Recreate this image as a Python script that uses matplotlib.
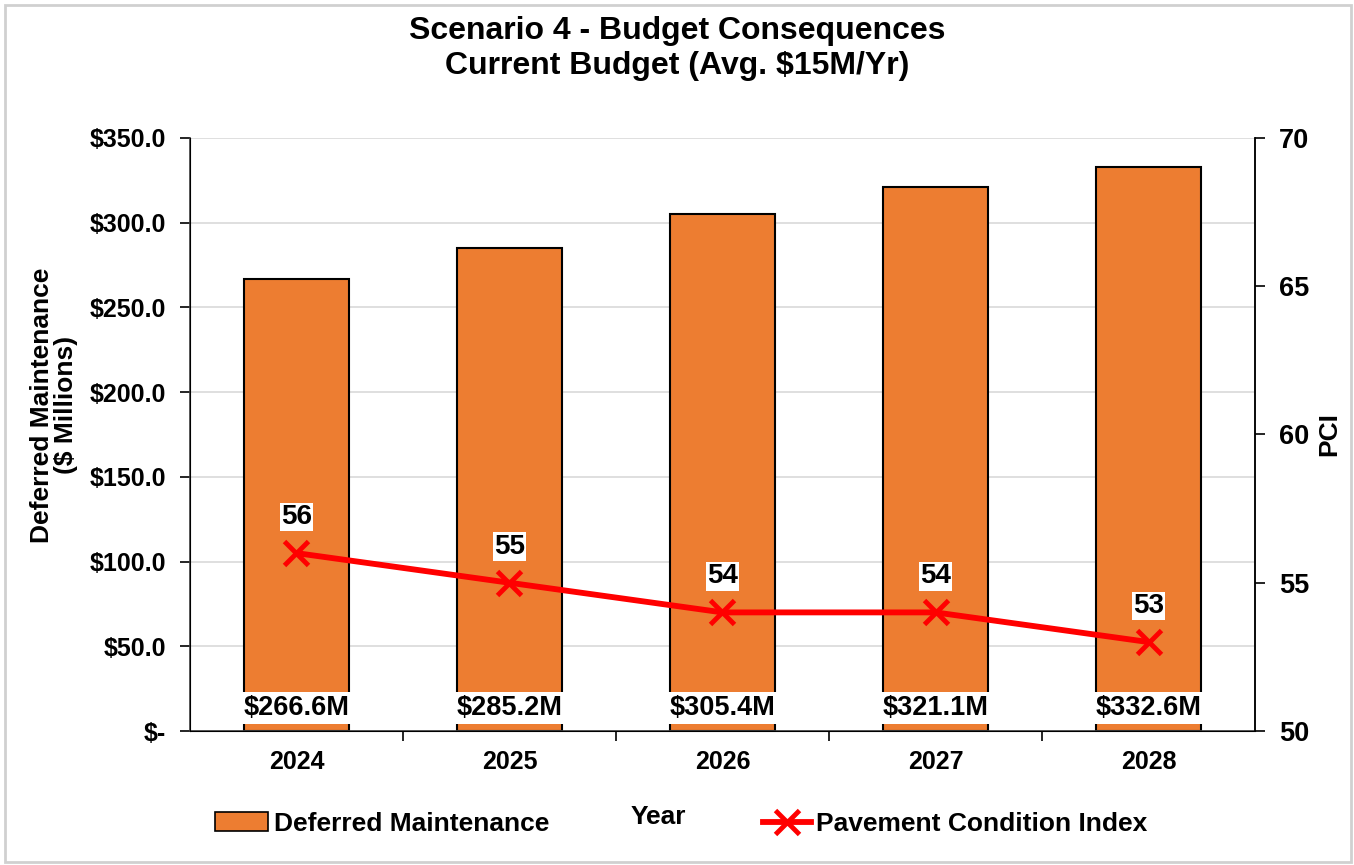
import matplotlib
matplotlib.use("Agg")
import matplotlib.pyplot as plt
from matplotlib.patches import Rectangle
from matplotlib.lines import Line2D
from matplotlib.patches import Patch

plt.rcParams['font.family'] = ['Liberation Sans', 'DejaVu Sans']
plt.rcParams['font.weight'] = 'bold'

years = ["2024", "2025", "2026", "2027", "2028"]
deferred = [266.6, 285.2, 305.4, 321.1, 332.6]
pci = [56, 55, 54, 54, 53]
left_ticks = [0, 50, 100, 150, 200, 250, 300, 350]
right_ticks = [50, 55, 60, 65, 70]

fig = plt.figure(figsize=(13.54, 8.65), dpi=100)
ax = fig.add_axes([0.1403, 0.1549, 0.7866, 0.6856])
ax2 = ax.twinx()

x = list(range(len(years)))
ax.bar(x, deferred, width=0.49, color='#ED7D31', edgecolor='black', linewidth=1.5, zorder=2)
ax.set_xlim(-0.5, len(years) - 0.5)
ax.set_ylim(0, 350)
ax.set_yticks(left_ticks)
ax.set_yticklabels(["$-" if v == 0 else f"${v:.1f}" for v in left_ticks], fontsize=18, fontweight='bold')
ax.yaxis.grid(True, color='#D9D9D9', linewidth=1.2, zorder=0)
ax.set_axisbelow(True)
ax.set_xticks(x)
ax.set_xticklabels(years, fontsize=18, fontweight='bold')
ax.tick_params(axis='x', length=0, pad=14)
ax.set_xticks([i + 0.5 for i in x[:-1]], minor=True)
ax.tick_params(axis='x', which='minor', length=7, width=1.2, direction='out')
ax.tick_params(axis='y', length=7, width=1.2, direction='out', pad=10)
ax.spines['top'].set_visible(False)
for s in ['left', 'bottom', 'right']:
    ax.spines[s].set_linewidth(1.2)
    ax.spines[s].set_color('#404040')
ax2.spines['top'].set_visible(False)
ax2.spines['right'].set_linewidth(1.2)

ax.set_ylabel("Deferred Maintenance\n($ Millions)", fontsize=19, fontweight='bold', linespacing=1.0)
ax.yaxis.set_label_coords(-0.105, 0.55)

for xi, v in zip(x, deferred):
    ax.text(xi, 13.5, f"${v:.1f}M", ha='center', va='center', fontsize=19.5, fontweight='bold',
            bbox=dict(facecolor='white', edgecolor='none', pad=2.0), zorder=5)

ax2.plot(x, pci, color='#FF0000', linewidth=4.2, marker='x', markersize=17, mew=3.5, zorder=4)
ax2.set_ylim(50, 70)
ax2.set_yticks(right_ticks)
ax2.set_yticklabels([str(v) for v in right_ticks], fontsize=19.5, fontweight='bold')
ax2.tick_params(axis='y', length=7, width=1.2, direction='out', pad=10)
ax2.set_ylabel("PCI", fontsize=19, fontweight='bold', labelpad=6)

for xi, v in zip(x, pci):
    ax2.annotate(str(v), (xi, v), xytext=(0, 26), textcoords='offset points', ha='center', va='center',
                 fontsize=20, fontweight='bold',
                 bbox=dict(facecolor='white', edgecolor='none', pad=1.0), zorder=6)

fig.text(0.5, 0.982, "Scenario 4 - Budget Consequences\nCurrent Budget (Avg. $15M/Yr)", ha='center', va='top',
         fontsize=23, fontweight='bold', linespacing=1.25)

fig.text(658 / 1354, 1 - 817 / 865, "Year", ha='center', va='center', fontsize=19, fontweight='bold')

h1 = Patch(facecolor='#ED7D31', edgecolor='black', linewidth=1.2)
h2 = Line2D([], [], color='#FF0000', linewidth=4.2, marker='x', markersize=17, mew=3.5)
leg1 = fig.legend([h1], ["Deferred Maintenance"], loc='center left', bbox_to_anchor=(197 / 1354, 1 - 824 / 865),
                  frameon=False, prop={'size': 19, 'weight': 'bold'}, handlelength=2.0, handleheight=0.75,
                  handletextpad=0.2, borderpad=0.2)
leg2 = fig.legend([h2], ["Pavement Condition Index"], loc='center left', bbox_to_anchor=(745 / 1354, 1 - 824 / 865),
                  frameon=False, prop={'size': 19, 'weight': 'bold'}, handlelength=1.8, handletextpad=0.2,
                  borderpad=0.2)

fig.patches.append(Rectangle((0.004, 0.004), 0.994, 0.99, transform=fig.transFigure, fill=False,
                             edgecolor='#D0D0D0', linewidth=2))

fig.savefig("out.png", dpi=100)
